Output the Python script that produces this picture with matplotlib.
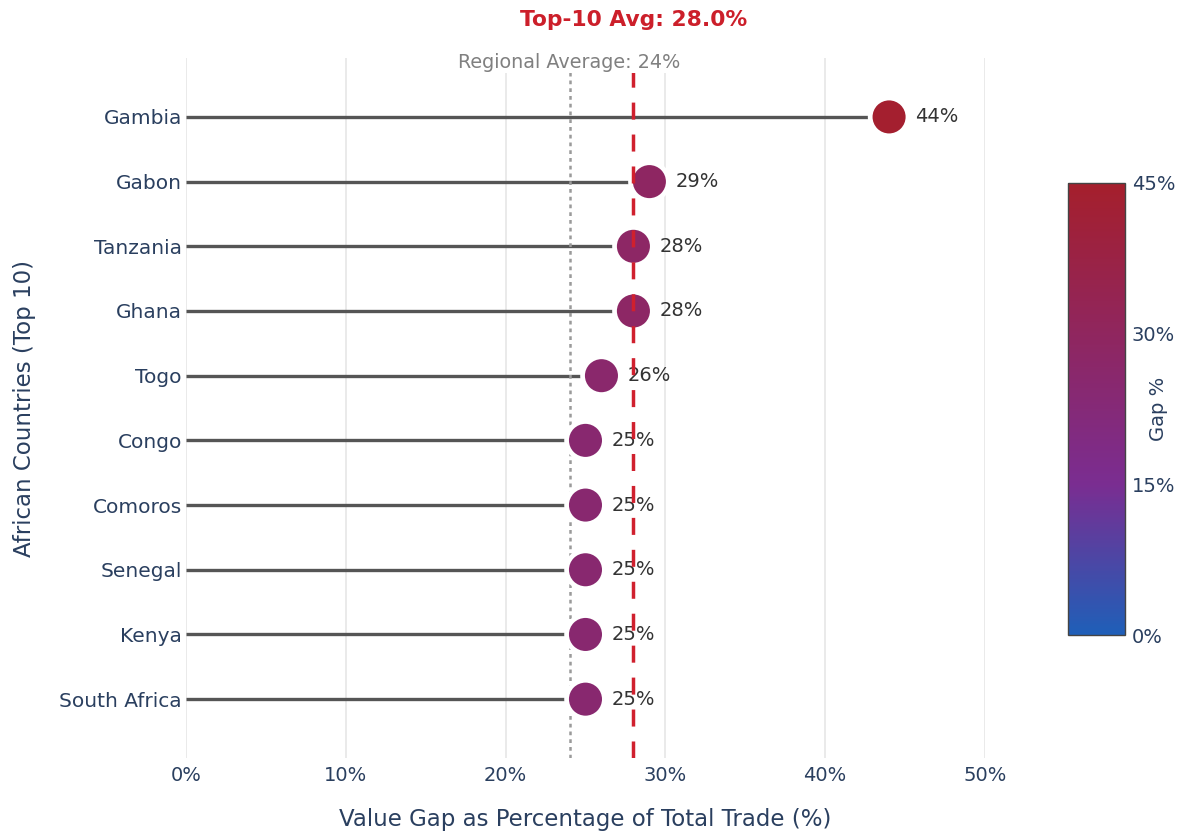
import matplotlib.pyplot as plt
import numpy as np
from matplotlib.colors import LinearSegmentedColormap, Normalize
from matplotlib.cm import ScalarMappable

plt.rcParams['font.family'] = ['DejaVu Sans']

# dati (dal basso verso l'alto)
paesi = ['South Africa', 'Kenya', 'Senegal', 'Comoros', 'Congo',
         'Togo', 'Ghana', 'Tanzania', 'Gabon', 'Gambia']
gap = [25, 25, 25, 25, 25, 26, 28, 28, 29, 44]  # percentuale
media_top10 = 28.0
media_regionale = 24
xticks = [0, 10, 20, 30, 40, 50]
cbar_ticks = [0, 15, 30, 45]

blu = '#2a3f5f'
scala = LinearSegmentedColormap.from_list(
    'gap', [(0, '#1f5fb8'), (1 / 3, '#7a2d91'), (1, '#a51f2c')])
norm = Normalize(0, 45)

fig = plt.figure(figsize=(11.81, 8.34), dpi=100)
ax = fig.add_axes([0.1575, 0.0911, 0.6765, 0.8393])
y = np.arange(len(paesi))

ax.hlines(y, 0, gap, color='#555555', lw=2.4, zorder=2)
ax.scatter(gap, y, s=740, c=gap, cmap=scala, norm=norm,
           edgecolors='white', linewidths=3.4, zorder=4)
for yi, v in zip(y, gap):
    ax.annotate(f'{v}%', (v, yi), xytext=(26, 0), textcoords='offset pixels',
                va='center', ha='left', fontsize=14, color='#333333', zorder=5)

ax.axvline(media_regionale, color='#9a9a9a', lw=1.8, ls=(0, (1.5, 1.6)), zorder=3)
ax.axvline(media_top10, color='#d0202e', lw=2.5, ls=(0, (4.9, 4.3)), zorder=6)

ax.text(media_regionale, 0.994, f'Regional Average: {media_regionale}%',
        transform=ax.get_xaxis_transform(), ha='center', va='center',
        fontsize=13.8, color='#808080', zorder=7,
        bbox=dict(facecolor='white', edgecolor='none', pad=1))
ax.text(media_top10, 1.054, f'Top-10 Avg: {media_top10:.1f}%',
        transform=ax.get_xaxis_transform(), ha='center', va='center',
        fontsize=15.7, color='#cc1f2a', fontweight='bold')

ax.set_xlim(0, 50)
ax.set_ylim(-0.91, 9.91)
ax.set_xticks(xticks)
ax.set_xticklabels([f'{t}%' for t in xticks])
ax.set_yticks(y)
ax.set_yticklabels(paesi)
ax.tick_params(axis='both', length=0, labelcolor=blu)
ax.tick_params(axis='y', pad=3, labelsize=14.5)
ax.tick_params(axis='x', pad=6, labelsize=14)
ax.grid(axis='x', color='#e8e8e8', lw=1.3, zorder=0)
ax.set_axisbelow(True)
for s in ax.spines.values():
    s.set_visible(False)

ax.set_xlabel('Value Gap as Percentage of Total Trade (%)', fontsize=16.5,
              color=blu, labelpad=16)
ax.set_ylabel('African Countries (Top 10)', fontsize=16.5, color=blu, labelpad=17)

cax = fig.add_axes([0.9043, 0.2386, 0.0483, 0.542])
cb = fig.colorbar(ScalarMappable(norm=norm, cmap=scala), cax=cax, ticks=cbar_ticks)
cb.set_ticklabels([f'{t}%' for t in cbar_ticks])
cb.outline.set_edgecolor('#444444')
cb.outline.set_linewidth(1)
cax.tick_params(length=0, labelsize=14, labelcolor=blu, pad=5)
cax.text(1.58, 0.5, 'Gap %', rotation=90, ha='center', va='center',
         transform=cax.transAxes, fontsize=14, color=blu)

fig.savefig('out.png', dpi=100)
